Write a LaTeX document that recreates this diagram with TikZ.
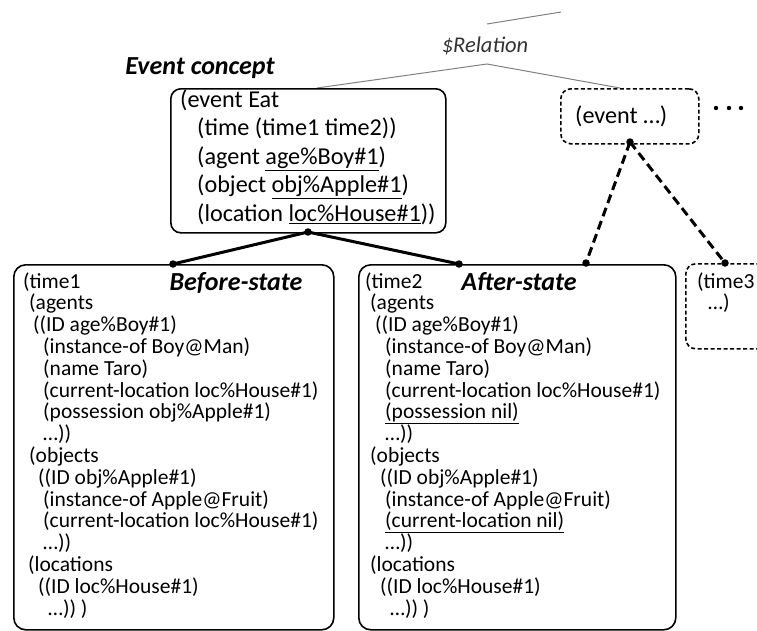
\documentclass[tikz,border=0pt]{standalone}
\usepackage{fontspec}
\setmainfont{Carlito}
\begin{document}
\begin{tikzpicture}[x=1pt,y=-1pt,
  box/.style={draw, line width=1.6pt, rounded corners=12pt, anchor=north west, inner sep=0pt},
  dbox/.style={box, dash pattern=on 4pt off 2.5pt, rounded corners=10pt},
  conn/.style={line width=3pt},
  dconn/.style={line width=3pt, dash pattern=on 9pt off 5pt},
  dotn/.style={circle, fill, inner sep=0pt, minimum size=7.5pt},
  gline/.style={draw=black!50, line width=1pt},
  lbl/.style={font=\bfseries\itshape\fontsize{26}{30}\selectfont, anchor=base, inner sep=0pt},
  ln/.style={anchor=base west, inner sep=0pt, font=\fontsize{21.5}{22}\selectfont},
  evl/.style={anchor=base west, inner sep=0pt, font=\fontsize{24.2}{28}\selectfont}]
\useasboundingbox (0,0) rectangle (757,630);
\begin{scope}
\clip (0,0) rectangle (757,630);
% gray relation lines
\coordinate (t1) at (487,24);
\coordinate (t2) at (561,12);
\coordinate (apex) at (487,64);
\coordinate (g1) at (317,88);
\coordinate (g2) at (620,88);
\draw[gline] (t1) -- (t2);
\draw[gline] (g1) -- (apex) -- (g2);
\node[anchor=base, inner sep=0pt, text=black!80, font=\itshape\fontsize{22.5}{26}\selectfont] (rel) at (485,52) {\$Relation};
\node[lbl] (evlab) at (200,74) {Event concept};
% event box
\node[box, rounded corners=10pt, minimum width=275pt, minimum height=144pt] (ev) at (170,88) {};
\node[evl] (e0) at (180,107) {(event Eat};
\node[evl] (e1) at (197,135.6) {(time (time1 time2))};
\node[evl] (e2) at (197,164.2) {(agent \underline{age\%Boy\#1})};
\node[evl] (e3) at (197,192.8) {(object \underline{obj\%Apple\#1})};
\node[evl] (e4) at (197,221.4) {(location \underline{loc\%House\#1}))};
% other event
\node[dbox, minimum width=138pt, minimum height=55pt] (ev2) at (560,88) {};
\node[evl] (ev2t) at (575,123) {(event …)};
\coordinate (more) at (729,108);
\foreach \dx in {-13,0,12} \fill ([xshift=\dx pt]more) circle (2.2pt);
% state boxes
\node[box, minimum width=320pt, minimum height=365pt] (bs) at (13,264) {};
\node[box, minimum width=317pt, minimum height=365pt] (as) at (358,264) {};
\node[dbox, minimum width=130pt, minimum height=85pt] (t3) at (685,263) {};
\node[lbl] (bslab) at (236,290) {Before-state};
\node[lbl] (aslab) at (519,290) {After-state};
\foreach \px/\t [count=\i from 0] in {23/{(time1}, 29/{(agents}, 33/{((ID age\%Boy\#1)}, 43/{(instance-of Boy@Man)}, 43/{(name Taro)}, 43/{(current-location loc\%House\#1)}, 43/{(possession obj\%Apple\#1)}, 43/{…))}, 29/{(objects}, 38/{((ID obj\%Apple\#1)}, 43/{(instance-of Apple@Fruit)}, 43/{(current-location loc\%House\#1)}, 43/{…))}, 28/{(locations}, 38/{((ID loc\%House\#1)}, 48/{…)) )}}
  \node[ln] (bl\i) at (\px,288+21.8*\i) {\t};
\foreach \px/\t [count=\i from 0] in {365/{(time2}, 370/{(agents}, 375/{((ID age\%Boy\#1)}, 385/{(instance-of Boy@Man)}, 385/{(name Taro)}, 385/{(current-location loc\%House\#1)}, 385/{\underline{(possession nil)}}, 385/{…))}, 370/{(objects}, 380/{((ID obj\%Apple\#1)}, 385/{(instance-of Apple@Fruit)}, 385/{\underline{(current-location nil)}}, 385/{…))}, 370/{(locations}, 380/{((ID loc\%House\#1)}, 390/{…)) )}}
  \node[ln] (al\i) at (\px,288+21.8*\i) {\t};
\node[ln] (t3a) at (697,288) {(time3};
\node[ln] (t3b) at (708,309.8) {…)};
% connectors
\node[dotn] (d0) at (308,232) {};
\node[dotn] (d1) at (173,264) {};
\node[dotn] (d2) at (459,264) {};
\node[dotn] (d3) at (630,142) {};
\node[dotn] (d4) at (586,263) {};
\node[dotn] (d5) at (725,263) {};
\draw[conn] (d1.center) -- (d0.center) -- (d2.center);
\draw[dconn] (d3.center) -- (d4.center);
\draw[dconn] (d3.center) -- (d5.center);
\end{scope}
\end{tikzpicture}
\end{document}
